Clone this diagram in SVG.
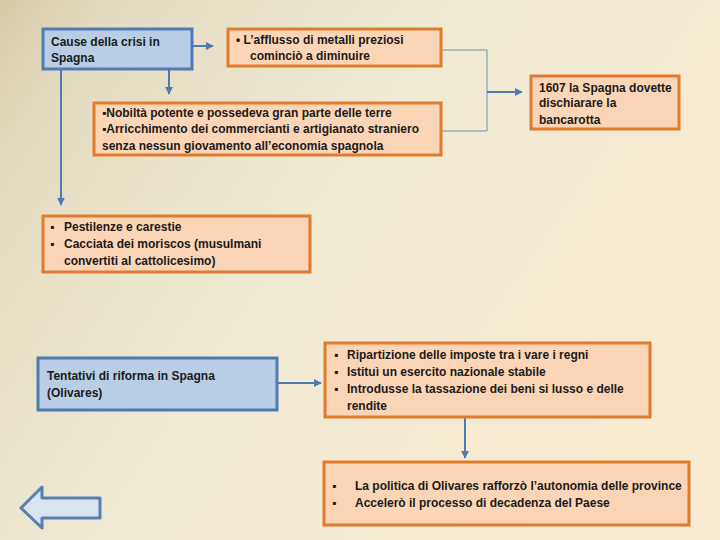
<svg xmlns="http://www.w3.org/2000/svg" width="720" height="540" viewBox="0 0 720 540">
<defs>
<linearGradient id="bg" x1="0" y1="0" x2="1" y2="0.5">
<stop offset="0" stop-color="#d6c9a3"/>
<stop offset="0.12" stop-color="#e3dbc0"/>
<stop offset="0.5" stop-color="#f0ead4"/>
<stop offset="1" stop-color="#f9ead2"/>
</linearGradient>
<marker id="ah" viewBox="0 0 10 10" refX="9" refY="5" markerWidth="4" markerHeight="4" orient="auto" markerUnits="strokeWidth">
<path d="M0,0 L10,5 L0,10 z" fill="#4f7ab3"/>
</marker>
<style>
.blue{fill:#b9cde5;stroke:#4f7ab3;stroke-width:3}
.orange{fill:#fbd5b5;stroke:#e07a2c;stroke-width:3}
text{font-family:"Liberation Sans",Arial,sans-serif;font-size:12px;font-weight:bold;fill:#1a1a1a}
.c{fill:none;stroke:#4f7ab3;stroke-width:2}
.t{fill:none;stroke:#6f8fbb;stroke-width:1}
</style>
</defs>
<rect width="720" height="540" fill="url(#bg)"/>
<g id="connectors">
<line class="c" x1="192" y1="46" x2="213" y2="46" marker-end="url(#ah)"/>
<line class="c" x1="169" y1="70" x2="169" y2="94" marker-end="url(#ah)"/>
<line class="c" x1="61" y1="70" x2="61" y2="205" marker-end="url(#ah)"/>
<polyline class="t" points="441,50 487,50 487,131 441,131"/>
<line class="c" x1="487" y1="92" x2="522" y2="92" marker-end="url(#ah)"/>
<line class="c" x1="277" y1="383" x2="321" y2="383" marker-end="url(#ah)"/>
<line class="c" x1="465" y1="417" x2="465" y2="458" marker-end="url(#ah)"/>
</g>
<g id="n1">
<rect class="blue" x="43" y="29" width="149" height="40"/>
<text x="51" y="46">Cause della crisi in</text>
<text x="51" y="62">Spagna</text>
</g>
<g id="n2">
<rect class="orange" x="228" y="29" width="213" height="37"/>
<text x="236" y="44">•  L’afflusso di metalli preziosi</text>
<text x="250" y="60">cominciò a diminuire</text>
</g>
<g id="n3">
<rect class="orange" x="94" y="103" width="347" height="52"/>
<text x="102" y="117">▪Nobiltà potente  e possedeva gran parte delle terre</text>
<text x="102" y="133">▪Arricchimento dei commercianti e artigianato straniero</text>
<text x="102" y="150">senza nessun giovamento  all’economia spagnola</text>
</g>
<g id="n4">
<rect class="orange" x="43" y="216" width="267" height="56"/>
<text x="50" y="231">▪</text><text x="64" y="231">Pestilenze e carestie</text>
<text x="50" y="248">▪</text><text x="64" y="248">Cacciata dei moriscos  (musulmani</text>
<text x="64" y="265">convertiti al cattolicesimo)</text>
</g>
<g id="n5">
<rect class="orange" x="531" y="76" width="148" height="53"/>
<text x="539" y="92">1607 la Spagna dovette</text>
<text x="539" y="107">dischiarare la</text>
<text x="539" y="124">bancarotta</text>
</g>
<g id="n6">
<rect class="blue" x="38" y="358" width="239" height="52"/>
<text x="47" y="380">Tentativi di riforma in Spagna</text>
<text x="47" y="397">(Olivares)</text>
</g>
<g id="n7">
<rect class="orange" x="325" y="343" width="325" height="74"/>
<text x="334" y="359">▪</text><text x="347" y="359">Ripartizione delle imposte tra i vare i regni</text>
<text x="334" y="376">▪</text><text x="347" y="376">Istituì un esercito nazionale stabile</text>
<text x="334" y="393">▪</text><text x="347" y="393">Introdusse la tassazione dei beni si lusso e delle</text>
<text x="347" y="410">rendite</text>
</g>
<g id="n8">
<rect class="orange" x="324" y="462" width="365" height="63"/>
<text x="332" y="490">▪</text><text x="355" y="490">La politica di Olivares rafforzò l’autonomia delle province</text>
<text x="332" y="507">▪</text><text x="355" y="507">Accelerò il processo di decadenza del Paese</text>
</g>
<g id="back">
<path d="M21,508 L42,487 L42,498 L100,498 L100,518 L42,518 L42,528 Z" fill="#dbe5f1" stroke="#5a7fb3" stroke-width="3" stroke-linejoin="round"/>
</g>
</svg>
